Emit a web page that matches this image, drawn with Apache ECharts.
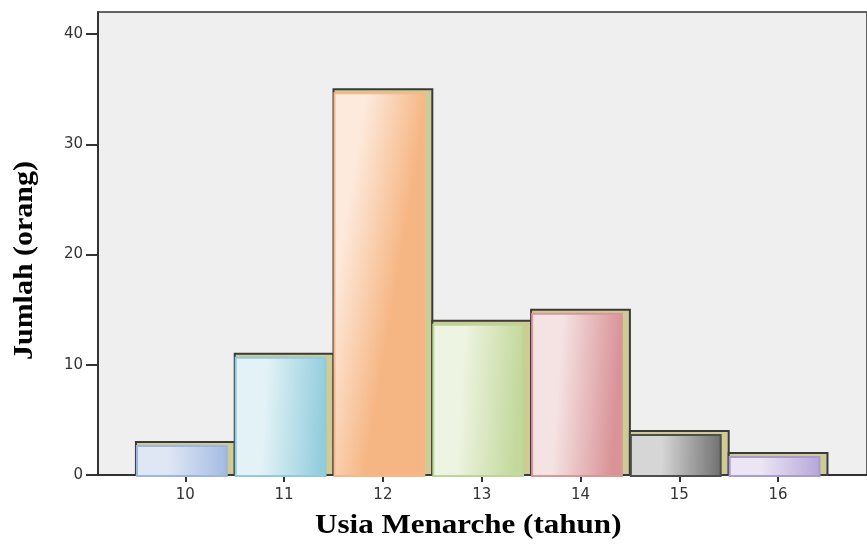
<!DOCTYPE html>
<html><head><meta charset="utf-8">
<script src="https://cdn.jsdelivr.net/npm/echarts@6/dist/echarts.min.js"></script>
<style>html,body{margin:0;padding:0;background:#fff}#c{width:867px;height:544px}</style>
</head><body><div id="c"></div>
<script>
var categories = [10, 11, 12, 13, 14, 15, 16];
var counts = [3, 11, 35, 14, 15, 4, 2];
var yTicks = [0, 10, 20, 30, 40];
var faceDark = ['#a3bbe2', '#93cddd', '#f6b684', '#c3d89c', '#d99296', '#707070', '#b6a6d8'];
var faceLight = ['#dfe7f5', '#e3f2f6', '#fdeadd', '#eef4e2', '#f5e2e2', '#d6d6d6', '#ebe5f4'];
var faceEdge = ['#9db5e0', '#8ecbdb', '#f6b888', '#bdd595', '#d9979a', '#4e4e4e', '#ab9bd3'];

var chart = echarts.init(document.getElementById('c'));
var data = categories.map(function (c, i) { return [c, counts[i], i]; });

chart.setOption({
  animation: false,
  grid: { left: 98, top: 12, bottom: 69, right: -10, show: true, backgroundColor: '#efefef', borderColor: '#333', borderWidth: 1.5 },
  xAxis: {
    type: 'value', min: 9.116, max: 16.9,
    axisLine: { show: true, lineStyle: { color: '#222', width: 1.5 } },
    axisTick: { show: true, length: 7, customValues: categories, lineStyle: { color: '#333', width: 2 } },
    axisLabel: { customValues: categories, color: '#333', fontSize: 15, fontFamily: 'DejaVu Sans', margin: 13 },
    splitLine: { show: false }
  },
  yAxis: {
    type: 'value', min: 0, max: 42,
    axisLine: { show: true, lineStyle: { color: '#333', width: 2 } },
    axisTick: { show: true, length: 12, customValues: yTicks, lineStyle: { color: '#333', width: 2 } },
    axisLabel: { customValues: yTicks, color: '#333', fontSize: 15, fontFamily: 'DejaVu Sans', margin: 15 },
    splitLine: { show: false }
  },
  series: [{
    type: 'custom',
    data: data,
    encode: { x: 0, y: 1 },
    renderItem: function (params, api) {
      var x = api.value(0), v = api.value(1), i = api.value(2);
      var base = api.coord([x, 0]);
      var top = api.coord([x, v]);
      var half = api.size([1, 0])[0] / 2;
      var cx = base[0], by = base[1], ty = top[1];
      return {
        type: 'group',
        children: [
          { type: 'rect', shape: { x: cx - half, y: ty, width: half * 2, height: by - ty },
            style: { fill: '#cfcb95', stroke: '#3a3a3a', lineWidth: 2 } },
          { type: 'rect', shape: { x: cx - half + 1, y: ty + 4, width: half * 2 - 9, height: by - ty - 3 },
            style: {
              fill: new echarts.graphic.LinearGradient(0, 0, 1, 0.04, [
                { offset: 0, color: faceLight[i] },
                { offset: 0.35, color: faceLight[i] },
                { offset: 1, color: faceDark[i] }
              ]),
              stroke: faceEdge[i], lineWidth: 2
            } }
        ]
      };
    }
  }],
  graphic: [
    { type: 'text', x: 315, y: 513, scaleX: 1.15, style: { text: 'Usia Menarche (tahun)', font: 'bold 27px "Liberation Serif"', fill: '#000', textBaseline: 'top' } },
    { type: 'text', x: 12, y: 360, rotation: Math.PI / 2, scaleX: 1.11, style: { text: 'Jumlah (orang)', font: 'bold 27px "Liberation Serif"', fill: '#000', textBaseline: 'top' } }
  ]
});
</script></body></html>
